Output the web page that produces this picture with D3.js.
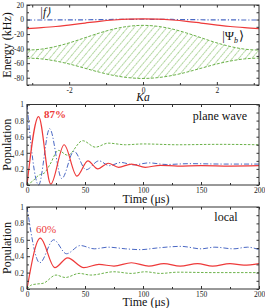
<!DOCTYPE html>
<html>
<head>
<meta charset="utf-8">
<script src="https://cdn.jsdelivr.net/npm/d3@7"></script>
<style>
  body { margin: 0; background: #fff; }
  svg { display: block; font-family: "Liberation Serif", "Times New Roman", serif; }
</style>
</head>
<body>
<div id="chart"></div>
<script>
// ---- data ----
// top panel: band energies vs Ka
const ka = [-3.14, -2.75, -2.36, -1.96, -1.57, -1.18, -0.79, -0.39, 0, 0.39, 0.79, 1.18, 1.57, 1.96, 2.36, 2.75, 3.14];
const energyF = [-0.6, -0.6, -0.5, -0.4, -0.3, -0.1, 0.1, 0.3, 0.4, 0.3, 0.1, -0.1, -0.3, -0.4, -0.5, -0.6, -0.6];
const energyPsi = [-12.4, -11.2, -9.6, -7.2, -4.8, -2.4, -0.6, 0.6, 1.0, 0.6, -0.6, -2.4, -4.8, -7.2, -9.6, -11.2, -12.4];
const bandTop = [-42, -40.7, -37, -31.5, -25, -18.5, -13, -9.3, -8, -9.3, -13, -18.5, -25, -31.5, -37, -40.7, -42];
const bandBottom = [-53, -54.1, -57.1, -61.6, -67, -72.4, -76.9, -79.9, -81, -79.9, -76.9, -72.4, -67, -61.6, -57.1, -54.1, -53];
const kaTicks = [-2, 0, 2];
const kaMinor = [-3, -1, 1, 3];
const energyTicks = [-80, -60, -40, -20, 0, 20];
const energyMinor = [-90, -70, -50, -30, -10, 10];

// middle panel: plane wave, [time, population]
const planeRed = [[0,0],[10,0.85],[20.5,0.01],[32,0.5],[43,0.11],[52.5,0.3],[61,0.2],[70,0.27],[79,0.22],[90,0.26],[102,0.22],[115,0.245],[130,0.235],[150,0.24],[175,0.235],[200,0.24]];
const planeBlue = [[0,1],[10,0.0],[19.5,0.7],[30,0.08],[40.5,0.42],[51,0.19],[62,0.3],[71,0.24],[81,0.28],[92,0.25],[105,0.275],[120,0.255],[140,0.265],[170,0.26],[200,0.26]];
const planeGreen = [[0,0],[5,0.05],[10,0.12],[15,0.15],[20,0.26],[27,0.43],[35,0.37],[48,0.55],[59,0.47],[70,0.52],[85,0.5],[100,0.51],[130,0.5],[165,0.505],[200,0.5]];

// bottom panel: local
const localRed = [[0,0],[11.5,0.62],[24,0.26],[35,0.38],[49,0.26],[62,0.3],[75,0.28],[90,0.32],[105,0.28],[118,0.31],[132,0.28],[147,0.31],[160,0.28],[175,0.31],[187,0.29],[200,0.31]];
const localBlue = [[0,1],[11,0.32],[23,0.6],[34,0.43],[46,0.53],[58,0.49],[70,0.51],[85,0.49],[98,0.48],[112,0.5],[133,0.52],[150,0.49],[162,0.51],[178,0.49],[190,0.51],[200,0.48]];
const localGreen = [[0,0],[4,0.05],[8,0.06],[14,0.07],[25,0.17],[33,0.14],[45,0.19],[55,0.17],[75,0.21],[90,0.19],[102,0.21],[115,0.19],[130,0.205],[160,0.2],[200,0.2]];

const timeTicks = [0, 50, 100, 150, 200];
const timeMinor = [25, 75, 125, 175];
const popTicks = [0, 0.2, 0.4, 0.6, 0.8, 1];
const popMinor = [0.1, 0.3, 0.5, 0.7, 0.9];

const RED = "#ee3a3a", BLUE = "#4a68c4", GREEN = "#6cb24a";

const svg = d3.select("#chart").append("svg").attr("width", 265).attr("height", 308);

const defs = svg.append("defs");
const pat = defs.append("pattern")
  .attr("id", "hatch")
  .attr("patternUnits", "userSpaceOnUse")
  .attr("width", 5).attr("height", 5)
  .attr("patternTransform", "rotate(40)");
pat.append("line")
  .attr("x1", 0).attr("y1", 0).attr("x2", 0).attr("y2", 5)
  .attr("stroke", GREEN).attr("stroke-width", 1.1).attr("stroke-dasharray", "2,0.6");

const x0 = 27, x1 = 259;

// draws frame, inward ticks on all four sides
const frame = (g, x, y, xt, xm, yt, ym, top, bottom) => {
  const add = (axis, tr) => g.append("g").attr("transform", tr).call(axis)
    .call(s => s.select(".domain").remove())
    .call(s => s.selectAll("text").style("font-size", "7.5px").attr("fill", "#222").style("font-family", "Liberation Serif, serif"))
    .call(s => s.selectAll("line").attr("stroke", "#333"));

  add(d3.axisBottom(x).tickValues(xt).tickSizeInner(-3).tickSizeOuter(0).tickPadding(2.5).tickFormat(d => String(d)), `translate(0,${bottom})`);
  add(d3.axisBottom(x).tickValues(xm).tickSizeInner(-2).tickSizeOuter(0).tickFormat(""), `translate(0,${bottom})`);
  add(d3.axisTop(x).tickValues(xt.concat(xm)).tickSizeInner(-2.5).tickSizeOuter(0).tickFormat(""), `translate(0,${top})`);
  add(d3.axisLeft(y).tickValues(yt).tickSizeInner(-3).tickSizeOuter(0).tickPadding(3).tickFormat(d => String(d)), `translate(${x0},0)`);
  add(d3.axisLeft(y).tickValues(ym).tickSizeInner(-2).tickSizeOuter(0).tickFormat(""), `translate(${x0},0)`);
  add(d3.axisRight(y).tickValues(yt.concat(ym)).tickSizeInner(-2.5).tickSizeOuter(0).tickFormat(""), `translate(${x1},0)`);

  g.append("rect")
    .attr("x", x0).attr("y", top)
    .attr("width", x1 - x0).attr("height", bottom - top)
    .attr("fill", "none").attr("stroke", "#333").attr("stroke-width", 1);
};

const label = (txt, x, y, size, opts = {}) => {
  const t = svg.append("text").attr("x", x).attr("y", y)
    .attr("text-anchor", opts.anchor || "middle")
    .style("font-size", size + "px")
    .attr("fill", opts.fill || "#111");
  if (opts.rotate) t.attr("transform", `rotate(-90,${x},${y})`);
  if (opts.italic) t.style("font-style", "italic");
  if (opts.bold) t.style("font-weight", "bold");
  t.text(txt);
  return t;
};

// ---- top panel ----
{
  const top = 5, bottom = 85;
  const x = d3.scaleLinear().domain([-Math.PI, Math.PI]).range([x0, x1]);
  const y = d3.scaleLinear().domain([-90, 20]).range([bottom, top]);
  const g = svg.append("g");

  const band = ka.map((k, i) => ({ k, a: bandTop[i], b: bandBottom[i] }));
  g.append("path").datum(band)
    .attr("fill", "url(#hatch)")
    .attr("d", d3.area().curve(d3.curveMonotoneX).x(d => x(d.k)).y0(d => y(d.b)).y1(d => y(d.a)));
  [bandTop, bandBottom].forEach(arr => {
    g.append("path").datum(ka.map((k, i) => [k, arr[i]]))
      .attr("fill", "none").attr("stroke", GREEN).attr("stroke-width", 1)
      .attr("stroke-dasharray", "3,1.5")
      .attr("d", d3.line().curve(d3.curveMonotoneX).x(d => x(d[0])).y(d => y(d[1])));
  });

  g.append("path").datum(ka.map((k, i) => [k, energyF[i]]))
    .attr("fill", "none").attr("stroke", BLUE).attr("stroke-width", 1.2)
    .attr("stroke-dasharray", "5,2,1.2,2")
    .attr("d", d3.line().curve(d3.curveMonotoneX).x(d => x(d[0])).y(d => y(d[1])));
  g.append("path").datum(ka.map((k, i) => [k, energyPsi[i]]))
    .attr("fill", "none").attr("stroke", RED).attr("stroke-width", 1.2)
    .attr("d", d3.line().curve(d3.curveMonotoneX).x(d => x(d[0])).y(d => y(d[1])));

  frame(g, x, y, kaTicks, kaMinor, energyTicks, energyMinor, top, bottom);

  label("|f⟩", 45, 16, 11.5, { italic: true });
  label("|Ψ", 234, 40, 12.5, { anchor: "end" });
  label("b", 234, 43, 8, { anchor: "start", italic: true });
  label("⟩", 238.5, 40, 12.5, { anchor: "start" });
  label("Energy (kHz)", 11, 45, 12, { rotate: true });
  label("Ka", 143, 101, 11.5, { italic: true });
}

// ---- time panels ----
const timePanel = (series, top, bottom, tag, tagPos, pct, pctPos, bold, titleGap) => {
  const x = d3.scaleLinear().domain([0, 200]).range([x0, x1]);
  const y = d3.scaleLinear().domain([0, 1]).range([bottom, top]);
  const g = svg.append("g");
  const line = d3.line().curve(d3.curveMonotoneX).x(d => x(d[0])).y(d => y(d[1]));

  series.forEach(s => {
    g.append("path").datum(s.data)
      .attr("fill", "none").attr("stroke", s.color).attr("stroke-width", s.w)
      .attr("stroke-dasharray", s.dash)
      .attr("d", line);
  });

  frame(g, x, y, timeTicks, timeMinor, popTicks, popMinor, top, bottom);

  label(tag, tagPos[0], tagPos[1], 12);
  label(pct, pctPos[0], pctPos[1], 11, { fill: RED, bold });
  label("Population", 11, (top + bottom) / 2, 12, { rotate: true });
  label("Time (μs)", 146, bottom + titleGap, 12);
};

timePanel([
  { data: planeGreen, color: GREEN, w: 1, dash: "2.5,1.5" },
  { data: planeBlue, color: BLUE, w: 1, dash: "5,2,1.2,2" },
  { data: planeRed, color: RED, w: 1.2, dash: null }
], 104.5, 185, "plane wave", [220, 120], "87%", [55, 118], true, 18);

timePanel([
  { data: localGreen, color: GREEN, w: 1, dash: "2.5,1.5" },
  { data: localBlue, color: BLUE, w: 1, dash: "5,2,1.2,2" },
  { data: localRed, color: RED, w: 1.2, dash: null }
], 207, 289, "local", [226, 221], "60%", [46, 233], false, 16.5);
</script>
</body>
</html>
